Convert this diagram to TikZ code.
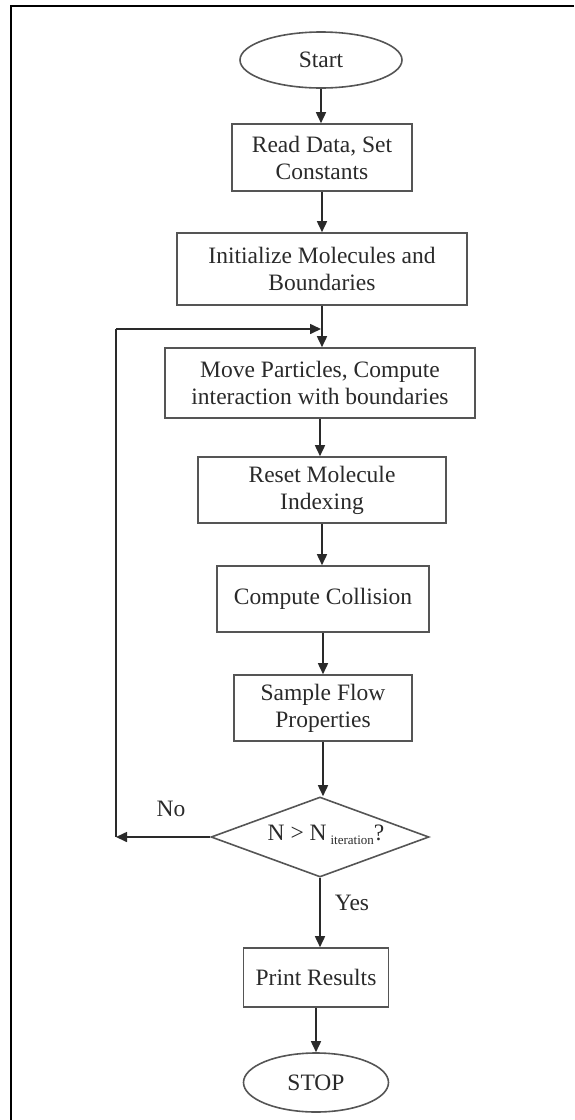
\documentclass[tikz,border=0pt]{standalone}
\usepackage{fontspec}
\setmainfont{Liberation Serif}
\usetikzlibrary{shapes.geometric,arrows.meta}
\definecolor{inkc}{HTML}{2A2A2A}
\definecolor{linec}{HTML}{555555}
\begin{document}
\begin{tikzpicture}[x=1pt,y=-1pt,
  every node/.style={font=\fontsize{23.5}{27}\selectfont, text=inkc},
  procbox/.style={draw=linec, line width=1.6pt, rectangle, inner sep=0pt, align=center},
  termnode/.style={draw=linec, line width=1.6pt, ellipse, inner sep=0pt},
  decnode/.style={draw=linec, line width=1.6pt, diamond, inner sep=0pt},
  arr/.style={draw=inkc, line width=1.6pt, -{Triangle[length=11pt,width=10pt]}},
  plain/.style={draw=inkc, line width=1.6pt},
  framec/.style={draw=black, line width=2.4pt}
]
\useasboundingbox (0,0) rectangle (574,1120);
\coordinate (ftl) at (11,6);
\coordinate (ftr) at (574,6);
\coordinate (fbl) at (11,1120);
\draw[framec] (ftr) -- (ftl) -- (fbl);

\node[termnode, minimum width=162pt, minimum height=56pt] (start) at (321,60) {Start};
\node[procbox, minimum width=180pt, minimum height=67pt] (b1) at (322,157.5) {Read Data, Set\\Constants};
\node[procbox, minimum width=290pt, minimum height=72pt] (b2) at (322,269) {Initialize Molecules and\\Boundaries};
\node[procbox, minimum width=310pt, minimum height=70pt] (b3) at (320,383) {Move Particles, Compute\\interaction with boundaries};
\node[procbox, minimum width=248pt, minimum height=66pt] (b4) at (322,490) {Reset Molecule\\Indexing};
\node[procbox, minimum width=212pt, minimum height=66pt] (b5) at (323,599) {Compute Collision};
\node[procbox, minimum width=178pt, minimum height=66pt] (b6) at (323,708) {Sample Flow\\Properties};
\node[decnode, minimum width=218pt, minimum height=80pt, aspect=2.7] (dec) at (320,837) {};
\node (dectext) at (326,835) {N > N\,{\fontsize{13}{13}\selectfont\raisebox{-4pt}{iteration}}?};
\node[procbox, minimum width=145pt, minimum height=59pt] (b7) at (316,977.5) {Print Results};
\node[termnode, minimum width=145pt, minimum height=59pt] (stop) at (316,1082.5) {STOP};

\node (no) at (171,809) {No};
\node (yes) at (352,903) {Yes};

\draw[arr] (start) -- (start |- b1.north);
\draw[arr] (b1) -- (b1 |- b2.north);
\draw[arr] (b2) -- (b2 |- b3.north);
\draw[arr] (b3) -- (b3 |- b4.north);
\draw[arr] (b4) -- (b4 |- b5.north);
\draw[arr] (b5) -- (b5 |- b6.north);
\draw[arr] (b6) -- (b6 |- dec.north);
\draw[arr] (dec.south) -- (dec.south |- b7.north);
\draw[arr] (b7.south) -- (stop.north);

\coordinate (lb) at (116,837);
\coordinate (lt) at (116,329);
\coordinate (lj) at (321,329);
\draw[arr] (dec.west) -- (lb);
\draw[plain] (lb) -- (lt);
\draw[arr] (lt) -- (lj);
\end{tikzpicture}
\end{document}
